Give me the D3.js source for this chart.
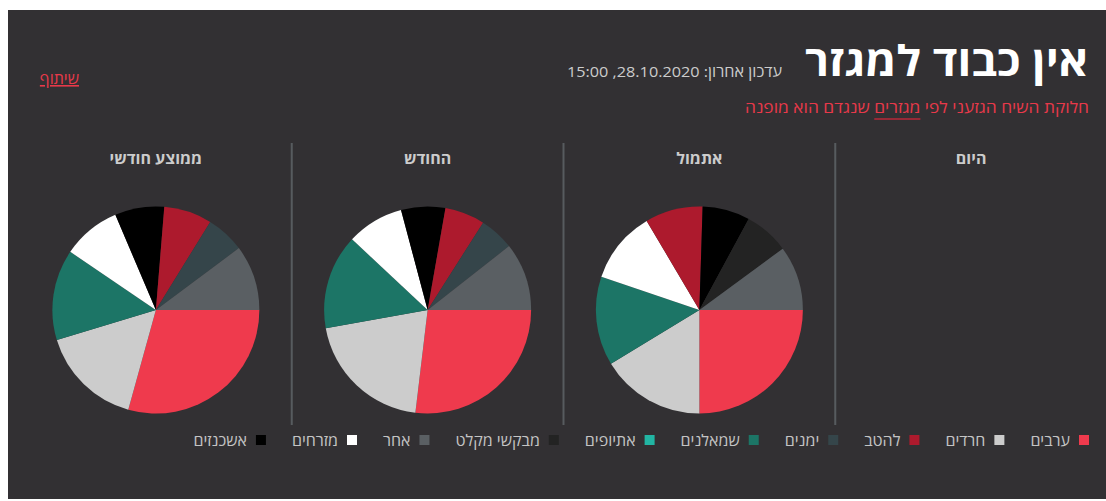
<!DOCTYPE html>
<html>
<head>
<meta charset="utf-8">
<script src="https://cdn.jsdelivr.net/npm/d3@7"></script>
<style>
  body { margin: 0; background: #fff; }
  svg { display: block; font-family: "Open Sans", "Noto Sans", sans-serif; }
</style>
</head>
<body>
<div id="chart"></div>
<script>
// categories + colours (legend order, right to left)
const categories = ["ערבים", "חרדים", "להטב", "ימנים", "שמאלנים", "אתיופים", "מבקשי מקלט", "אחר", "מזרחים", "אשכנזים"];
const colors = ["#ef3a4d", "#cccccc", "#ad1a2d", "#35454a", "#1c7566", "#22b5a3", "#232323", "#5a5f63", "#ffffff", "#000000"];

// columns, left to right
const periods = ["ממוצע חודשי", "החודש", "אתמול", "היום"];

// slices in clockwise order from 3 o'clock (percent)
const avgMonth = [["ערבים", 29.3], ["חרדים", 16], ["שמאלנים", 14.2], ["מזרחים", 9.1], ["אשכנזים", 7.7], ["להטב", 7.5], ["ימנים", 6], ["אחר", 10.2]];
const thisMonth = [["ערבים", 26.9], ["חרדים", 20.3], ["שמאלנים", 14.8], ["מזרחים", 8.9], ["אשכנזים", 6.9], ["להטב", 6.25], ["ימנים", 5.4], ["אחר", 10.6]];
const yesterday = [["ערבים", 25], ["חרדים", 16.3], ["שמאלנים", 13.9], ["מזרחים", 11.3], ["להטב", 9], ["אשכנזים", 7.4], ["מבקשי מקלט", 7], ["אחר", 10.1]];
const today = [];
const pieData = [avgMonth, thisMonth, yesterday, today];

const W = 1106, H = 501;
const color = d3.scaleOrdinal().domain(categories).range(colors);

const svg = d3.select("#chart").append("svg")
    .attr("width", W)
    .attr("height", H);

// dark panel
svg.append("rect")
    .attr("x", 8).attr("y", 10)
    .attr("width", W - 8).attr("height", 489)
    .attr("fill", "#323033");

// header
svg.append("text")
    .attr("x", 1088).attr("y", 76)
    .attr("direction", "rtl")
    .attr("text-anchor", "start")
    .attr("fill", "#ffffff")
    .attr("font-size", 42)
    .attr("font-weight", 700)
    .attr("textLength", 283)
    .attr("lengthAdjust", "spacingAndGlyphs")
    .text("אין כבוד למגזר");

svg.append("text")
    .attr("x", 782).attr("y", 77)
    .attr("direction", "rtl")
    .attr("text-anchor", "start")
    .attr("fill", "#cccccc")
    .attr("font-size", 15)
    .attr("textLength", 215)
    .attr("lengthAdjust", "spacingAndGlyphs")
    .text("עדכון אחרון: 28.10.2020, 15:00");

const sub = svg.append("text")
    .attr("x", 1089).attr("y", 113)
    .attr("direction", "rtl")
    .attr("text-anchor", "start")
    .attr("fill", "#e8394a")
    .attr("font-size", 16)
    .attr("textLength", 344)
    .attr("lengthAdjust", "spacingAndGlyphs");
sub.append("tspan").text("חלוקת השיח הגזעני לפי ");
const link = sub.append("tspan").text("מגזרים");
sub.append("tspan").text(" שנגדם הוא מופנה");

// underline under the linked word
const lb = link.node().getBBox();
svg.append("line")
    .attr("x1", lb.x).attr("x2", lb.x + lb.width)
    .attr("y1", 119).attr("y2", 119)
    .attr("stroke", "#b8283a")
    .attr("stroke-width", 1.5);

svg.append("text")
    .attr("x", 79).attr("y", 84)
    .attr("direction", "rtl")
    .attr("text-anchor", "start")
    .attr("fill", "#e8394a")
    .attr("font-size", 16)
    .attr("text-decoration", "underline")
    .text("שיתוף");

// columns
const x = d3.scaleBand().domain(periods).range([20, 1107]);
const cy = 310, radius = 103.5;

// dividers between columns
svg.selectAll("line.divider")
    .data(periods.slice(1))
    .join("line")
    .attr("class", "divider")
    .attr("x1", d => x(d)).attr("x2", d => x(d))
    .attr("y1", 143).attr("y2", 425)
    .attr("stroke", "#575b5f")
    .attr("stroke-width", 2);

svg.selectAll("text.period")
    .data(periods)
    .join("text")
    .attr("class", "period")
    .attr("x", d => x(d) + x.bandwidth() / 2)
    .attr("y", 164)
    .attr("text-anchor", "middle")
    .attr("fill", "#cccccc")
    .attr("font-size", 16)
    .attr("font-weight", 700)
    .text(d => d);

const pie = d3.pie()
    .sort(null)
    .value(d => d[1])
    .startAngle(Math.PI / 2)
    .endAngle(Math.PI / 2 + 2 * Math.PI);
const arc = d3.arc().innerRadius(0).outerRadius(radius);

periods.forEach((p, i) => {
    const g = svg.append("g")
        .attr("transform", `translate(${x(p) + x.bandwidth() / 2},${cy})`);
    g.selectAll("path")
        .data(pie(pieData[i]))
        .join("path")
        .attr("d", arc)
        .attr("fill", d => color(d.data[0]));
});

// legend, flowing right to left
const legend = svg.append("g");
let lx = 1089;
const ly = 440;
categories.forEach(c => {
    legend.append("rect")
        .attr("x", lx - 10).attr("y", ly - 5)
        .attr("width", 10).attr("height", 10)
        .attr("fill", color(c));
    const t = legend.append("text")
        .attr("x", lx - 19).attr("y", ly + 6)
        .attr("direction", "rtl")
        .attr("text-anchor", "start")
        .attr("fill", "#c4c4c4")
        .attr("font-size", 16)
        .text(c);
    lx = lx - 19 - t.node().getComputedTextLength() - 26;
});
</script>
</body>
</html>
